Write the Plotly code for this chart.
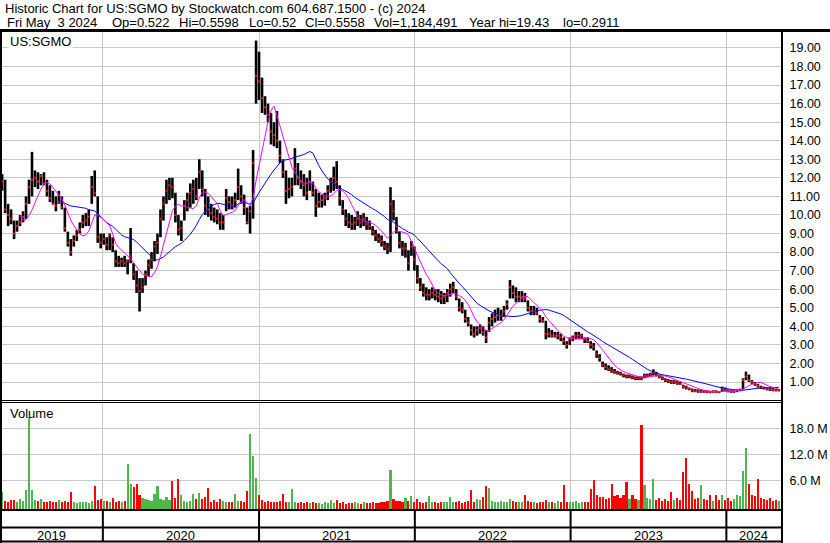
import pandas as pd
import numpy as np
import plotly.graph_objects as go

# ---------------- data (weekly) ----------------
high = [
    12.2, 11.9, 10.6, 10.3, 9.7, 9.7, 10.0, 10.2, 11.0, 11.9,
    13.4, 12.4, 12.3, 12.2, 12.3, 11.9, 11.6, 11.3, 11.0, 11.3,
    11.0, 10.4, 9.1, 8.7, 8.9, 9.2, 9.6, 10.0, 10.1, 10.3,
    12.1, 12.4, 11.0, 9.0, 9.0, 8.8, 9.0, 8.8, 8.1, 7.8,
    7.7, 7.8, 7.6, 9.3, 7.4, 7.0, 6.6, 6.6, 7.0, 7.6,
    8.0, 8.6, 9.0, 10.3, 11.0, 11.9, 12.0, 12.0, 11.2, 10.0,
    9.7, 10.8, 11.2, 11.7, 11.9, 12.0, 13.0, 12.4, 11.4, 11.0,
    10.6, 10.4, 10.3, 10.1, 10.0, 11.4, 11.0, 11.0, 11.2, 12.5,
    11.6, 11.1, 10.4, 10.5, 13.5, 19.4, 18.8, 17.4, 16.4, 16.0,
    15.5, 15.0, 15.6, 14.0, 13.0, 12.4, 12.0, 12.0, 13.6, 12.8,
    12.4, 12.2, 12.0, 12.4, 11.8, 11.4, 11.2, 11.1, 11.2, 11.6,
    12.0, 12.6, 12.9, 11.6, 10.8, 10.3, 10.1, 10.0, 9.9, 10.2,
    10.0, 10.1, 9.9, 9.7, 9.4, 9.2, 9.0, 8.9, 8.6, 8.5,
    11.5, 10.8, 9.9, 9.1, 8.6, 8.5, 8.1, 8.6, 8.3, 7.3,
    6.6, 6.3, 6.1, 6.0, 6.1, 6.0, 6.0, 5.9, 5.8, 6.0,
    6.3, 6.4, 6.0, 5.5, 5.3, 4.9, 4.5, 4.1, 4.0, 4.0,
    4.1, 4.0, 3.8, 4.5, 4.7, 4.9, 5.0, 4.9, 5.1, 5.4,
    6.5, 6.2, 6.1, 5.9, 5.9, 5.8, 5.4, 5.1, 5.1, 5.0,
    4.6, 4.5, 4.3, 3.9, 3.8, 3.7, 3.7, 3.6, 3.4, 3.2,
    3.4, 3.5, 3.7, 3.7, 3.6, 3.4, 3.4, 3.2, 3.1, 2.7,
    2.5, 2.1, 2.0, 1.9, 1.8, 1.7, 1.6, 1.55, 1.45, 1.4,
    1.4, 1.35, 1.3, 1.3, 1.3, 1.45, 1.45, 1.5, 1.68, 1.55,
    1.4, 1.3, 1.2, 1.15, 1.1, 1.1, 1.05, 1.0, 0.85, 0.8,
    0.7, 0.65, 0.62, 0.6, 0.6, 0.55, 0.55, 0.52, 0.55, 0.55,
    0.52, 0.75, 0.7, 0.6, 0.55, 0.55, 0.6, 0.63, 1.2, 1.56,
    1.4, 1.1, 1.0, 0.9, 0.8, 0.75, 0.7, 0.68, 0.68, 0.62,
    0.62,
]
low = [
    11.3, 10.1, 9.4, 9.5, 8.7, 9.1, 9.4, 9.6, 9.8, 10.6,
    11.0, 11.5, 11.4, 11.6, 11.6, 11.0, 10.7, 10.6, 10.2, 10.6,
    10.3, 9.1, 8.3, 7.8, 8.3, 8.6, 9.0, 9.3, 9.4, 9.4,
    10.6, 11.0, 8.5, 8.2, 8.4, 8.1, 8.1, 8.0, 7.2, 7.2,
    7.2, 7.2, 6.8, 7.4, 6.5, 5.8, 4.8, 5.8, 6.2, 6.7,
    7.1, 7.5, 7.9, 8.8, 9.7, 10.6, 10.8, 10.9, 9.6, 8.9,
    8.6, 9.7, 10.2, 10.4, 10.6, 10.8, 11.4, 11.0, 10.0, 9.9,
    9.7, 9.6, 9.5, 9.2, 9.2, 10.2, 10.3, 10.3, 10.4, 10.8,
    10.6, 10.0, 9.5, 9.0, 9.8, 16.0, 16.2, 15.5, 15.4, 15.0,
    13.8, 13.7, 13.6, 12.8, 12.0, 10.6, 10.9, 11.0, 11.6, 11.6,
    11.4, 11.0, 10.8, 11.3, 11.0, 9.9, 10.4, 10.4, 10.5, 10.8,
    11.2, 11.3, 11.4, 10.5, 10.0, 9.4, 9.3, 9.2, 9.2, 9.4,
    9.3, 9.4, 9.2, 9.2, 8.9, 8.6, 8.5, 8.3, 8.1, 7.9,
    8.0, 9.7, 9.0, 8.2, 7.8, 7.7, 7.0, 7.8, 7.0, 6.3,
    5.9, 5.6, 5.4, 5.4, 5.5, 5.4, 5.3, 5.2, 5.2, 5.3,
    5.6, 5.8, 5.4, 4.8, 4.7, 4.2, 4.0, 3.5, 3.4, 3.5,
    3.6, 3.5, 3.1, 3.7, 4.0, 4.2, 4.3, 4.3, 4.5, 4.9,
    5.5, 5.5, 5.3, 5.3, 5.3, 5.3, 4.8, 4.6, 4.6, 4.6,
    4.2, 4.2, 3.3, 3.4, 3.4, 3.4, 3.3, 3.2, 3.0, 2.8,
    3.0, 3.2, 3.3, 3.3, 3.3, 3.1, 3.1, 2.8, 2.7, 2.3,
    2.1, 1.8, 1.65, 1.6, 1.5, 1.45, 1.4, 1.35, 1.25, 1.2,
    1.2, 1.15, 1.1, 1.1, 1.1, 1.2, 1.25, 1.3, 1.35, 1.3,
    1.2, 1.1, 1.0, 0.95, 0.9, 0.9, 0.85, 0.85, 0.65, 0.6,
    0.55, 0.45, 0.45, 0.42, 0.42, 0.42, 0.4, 0.4, 0.42, 0.4,
    0.4, 0.5, 0.5, 0.45, 0.42, 0.42, 0.45, 0.5, 0.6, 1.1,
    1.0, 0.9, 0.8, 0.7, 0.62, 0.6, 0.55, 0.52, 0.5, 0.5,
    0.5,
]
close = [
    11.8, 10.3, 10.0, 9.8, 9.0, 9.4, 9.6, 9.9, 10.6, 11.5,
    11.9, 12.0, 11.8, 12.1, 11.7, 11.3, 10.9, 10.6, 10.5, 10.7,
    10.4, 9.3, 8.5, 8.0, 8.6, 8.9, 9.2, 9.6, 9.7, 9.9,
    11.5, 11.2, 8.8, 8.5, 8.7, 8.4, 8.9, 8.4, 7.5, 7.4,
    7.5, 7.4, 7.5, 7.8, 6.8, 6.2, 5.9, 6.1, 6.8, 7.3,
    7.6, 8.3, 8.5, 9.8, 10.6, 11.3, 11.6, 11.5, 10.0, 9.2,
    9.3, 10.5, 10.8, 11.2, 11.4, 11.0, 12.3, 11.4, 10.5, 10.3,
    10.1, 9.9, 9.8, 9.6, 9.6, 10.9, 10.7, 10.5, 10.8, 11.5,
    11.0, 10.4, 9.6, 10.2, 12.8, 17.5, 17.2, 16.3, 15.8, 15.4,
    14.5, 14.3, 14.0, 13.2, 12.3, 11.3, 11.4, 11.5, 12.5, 12.0,
    11.8, 11.6, 11.2, 11.8, 11.2, 10.5, 10.7, 10.8, 10.9, 11.3,
    11.8, 12.0, 11.8, 10.9, 10.3, 9.8, 9.6, 9.5, 9.6, 9.8,
    9.6, 9.8, 9.5, 9.4, 9.1, 8.9, 8.7, 8.6, 8.3, 8.2,
    10.6, 10.2, 9.4, 8.5, 8.2, 8.2, 7.4, 8.3, 7.6, 6.6,
    6.1, 5.8, 5.7, 5.7, 5.8, 5.7, 5.6, 5.5, 5.6, 5.8,
    6.0, 6.1, 5.6, 5.0, 4.9, 4.4, 4.2, 3.8, 3.6, 3.8,
    3.9, 3.7, 3.4, 4.2, 4.4, 4.5, 4.6, 4.6, 4.8, 5.2,
    6.1, 5.8, 5.6, 5.6, 5.6, 5.5, 5.0, 4.8, 4.8, 4.7,
    4.4, 4.3, 3.6, 3.6, 3.5, 3.5, 3.5, 3.4, 3.2, 3.0,
    3.3, 3.4, 3.5, 3.5, 3.5, 3.3, 3.2, 3.0, 2.9, 2.5,
    2.3, 1.9, 1.8, 1.7, 1.6, 1.55, 1.5, 1.45, 1.35, 1.3,
    1.3, 1.25, 1.2, 1.2, 1.18, 1.35, 1.35, 1.4, 1.5, 1.4,
    1.3, 1.2, 1.1, 1.05, 1.0, 1.0, 0.95, 0.9, 0.75, 0.7,
    0.62, 0.55, 0.52, 0.5, 0.5, 0.48, 0.46, 0.45, 0.48, 0.47,
    0.46, 0.62, 0.55, 0.5, 0.48, 0.5, 0.55, 0.6, 1.1, 1.3,
    1.1, 1.0, 0.9, 0.8, 0.7, 0.68, 0.62, 0.6, 0.58, 0.55,
    0.5558,
]
volume_m = [
    3.4, 1.2, 1.0, 1.4, 1.5, 1.1, 1.6, 1.3, 3.8, 20.7,
    3.8, 1.4, 1.2, 1.6, 1.1, 1.0, 1.3, 0.9, 1.1, 1.4,
    0.9, 1.2, 1.0, 3.4, 0.9, 0.8, 1.1, 0.9, 1.0, 0.8,
    1.2, 4.8, 1.5, 1.8, 1.3, 1.2, 1.0, 1.9, 1.1, 1.2,
    1.0, 1.3, 9.8, 5.2, 4.5, 5.2, 2.5, 2.0, 1.7, 1.5,
    1.3, 2.8, 4.8, 1.8, 1.4, 2.2, 1.5, 5.8, 2.0, 6.3,
    2.6, 1.2, 1.0, 1.3, 2.8, 1.6, 3.0, 1.7, 2.2, 4.3,
    1.1, 1.4, 0.9, 1.7, 1.2, 0.9, 1.0, 1.1, 2.8, 1.3,
    1.2, 1.0, 3.6, 16.8, 11.6, 6.6, 2.7, 1.4, 1.0, 1.2,
    1.0, 1.1, 0.9, 1.2, 2.9, 1.0, 1.1, 3.9, 0.9, 0.8,
    1.0, 0.7, 0.9, 0.8, 1.0, 0.7, 0.8, 0.6, 0.9, 0.7,
    1.5, 0.8, 1.4, 0.7, 0.9, 0.6, 0.8, 0.7, 0.9, 0.8,
    0.6, 0.9, 0.7, 0.8, 1.0, 0.7, 0.8, 0.9, 1.0, 1.2,
    8.4, 1.6, 1.3, 1.2, 1.1, 2.0, 1.3, 2.4, 0.9, 1.8,
    1.0, 0.8, 1.1, 2.3, 0.9, 1.0, 0.8, 1.1, 0.9, 1.0,
    2.2, 0.9, 1.0, 1.3, 0.8, 1.1, 1.2, 3.7, 1.0, 1.6,
    1.4, 2.2, 4.6, 4.3, 1.2, 1.0, 0.9, 1.3, 1.1, 1.0,
    1.6, 1.2, 0.9, 1.1, 1.0, 2.6, 1.2, 0.9, 1.0, 0.8,
    1.1, 1.0, 1.5, 0.9, 1.0, 0.8, 1.2, 1.0, 5.0, 1.1,
    0.9, 1.0, 1.2, 0.8, 1.0, 1.1, 0.9, 3.9, 6.0, 2.5,
    2.1, 2.2, 1.8, 2.0, 5.2, 2.4, 2.6, 1.9, 2.5, 5.5,
    1.8, 2.6, 1.6, 1.4, 18.8, 5.0, 1.9, 1.6, 6.2, 1.5,
    2.0, 1.2, 1.8, 1.3, 3.3, 1.5, 1.9, 1.4, 8.0, 11.2,
    5.1, 3.5, 1.7, 1.9, 4.9, 1.8, 1.4, 2.7, 1.3, 2.6,
    1.5, 2.6, 1.4, 1.9, 1.2, 1.6, 2.6, 2.3, 8.1, 13.4,
    5.2, 2.7, 2.4, 6.2, 2.0, 1.8, 1.5, 1.9, 1.3, 1.4,
    1.2,
]
last_date = "2024-05-03"
year_labels = ["2019", "2020", "2021", "2022", "2023", "2024"]
year_starts = ["2020-01-01", "2021-01-01", "2022-01-01", "2023-01-01", "2024-01-01"]
price_ticks = list(range(1, 20))
volume_ticks = [6, 12, 18]
header_1 = "Historic Chart for US:SGMO by Stockwatch.com 604.687.1500 - (c) 2024"
header_2_fields = ["Fri May  3 2024", "Op=0.522", "Hi=0.5598", "Lo=0.52", "Cl=0.5558",
                   "Vol=1,184,491", "Year hi=19.43", "lo=0.2911"]
symbol = "US:SGMO"

# ---------------- geometry ----------------
W, H = 830, 543
PL, PR = 0, 781          # plot area x (px)
PT, PB = 32, 509         # plot area y (px)
X_RANGE = ["2019-05-05", "2024-05-08"]
VOL_FLOOR = -0.62
FONT = "Liberation Sans, Arial, sans-serif"
GRID = "#c8c8c8"
header_2_x = [5, 110, 177, 247, 303, 372, 467, 561]


def px(xp):
    return (xp - PL) / (PR - PL)


def py(yp):
    return (PB - yp) / (PB - PT)


n = min(len(high), len(low), len(close), len(volume_m))
high, low, close, volume_m = high[:n], low[:n], close[:n], volume_m[:n]
dates = pd.date_range(end=last_date, periods=n, freq="7D")

s = pd.Series(close)
ma_fast = s.rolling(7).mean()
ma_slow = s.rolling(20).mean()

vol_colors = []
for i in range(n):
    if i == 0 or close[i] >= close[i - 1]:
        vol_colors.append("#4cb84c")
    else:
        vol_colors.append("#ff0000")

bx, by = [], []
for d, h, l in zip(dates, high, low):
    bx += [d, d, None]
    by += [l, h, None]

fig = go.Figure()
fig.add_trace(go.Scatter(x=bx, y=by, mode="lines", line=dict(color="black", width=2.6),
                         xaxis="x", yaxis="y", hoverinfo="skip"))
fig.add_trace(go.Scatter(x=dates, y=close, mode="markers",
                         marker=dict(symbol="square", size=2, color="#ff0000", line=dict(width=0)),
                         xaxis="x", yaxis="y"))
fig.add_trace(go.Scatter(x=dates, y=ma_slow, mode="lines", line=dict(color="#0000ff", width=1),
                         xaxis="x", yaxis="y"))
fig.add_trace(go.Scatter(x=dates, y=ma_fast, mode="lines", line=dict(color="#ff00ff", width=1),
                         xaxis="x", yaxis="y"))
fig.add_trace(go.Bar(x=dates, y=np.array(volume_m) - VOL_FLOOR, base=VOL_FLOOR,
                     marker=dict(color=vol_colors, line=dict(width=0)),
                     width=5 * 86400000, xaxis="x2", yaxis="y2"))

xa = dict(range=X_RANGE, type="date", tickvals=year_starts, showticklabels=False,
          showgrid=True, gridcolor=GRID, gridwidth=1, zeroline=False, showline=False,
          ticks="", domain=[0, 1], fixedrange=True)

price_dom = [py(400), 1]
vol_dom = [0, py(403)]
p_lo = 0.03
p_hi = 19.86
v_hi = 23.85

fig.update_layout(
    width=W, height=H,
    margin=dict(l=PL, r=W - PR, t=PT, b=H - PB, pad=0, autoexpand=False),
    paper_bgcolor="white", plot_bgcolor="white",
    showlegend=False, bargap=0,
    font=dict(family=FONT, color="black", size=13),
    xaxis=dict(xa, anchor="y"),
    xaxis2=dict(xa, anchor="y2", matches="x"),
    yaxis=dict(domain=price_dom, range=[p_lo, p_hi], side="right", anchor="x",
               tickvals=price_ticks, ticktext=[f"{v:.2f}" for v in price_ticks],
               showgrid=True, gridcolor=GRID, zeroline=False, showline=False,
               ticks="outside", ticklen=5, tickcolor="rgba(0,0,0,0)", automargin=False,
               tickfont=dict(size=12.5, family=FONT, color="black")),
    yaxis2=dict(domain=vol_dom, range=[VOL_FLOOR, v_hi], side="right", anchor="x2",
                tickvals=volume_ticks, ticktext=[f"{v:.1f} M" for v in volume_ticks],
                showgrid=True, gridcolor=GRID, zeroline=False, showline=False,
                ticks="outside", ticklen=5, tickcolor="rgba(0,0,0,0)", automargin=False,
                tickfont=dict(size=12.5, family=FONT, color="black")),
)

ann = []
nb = lambda t: t.replace(" ", "\u00a0")
ann.append(dict(text=nb(header_1), x=px(3), y=py(9), xref="paper", yref="paper",
                xanchor="left", yanchor="middle", showarrow=False, font=dict(size=13)))
for txt, xx in zip(header_2_fields, header_2_x):
    ann.append(dict(text=nb(txt), x=px(xx), y=py(22.5), xref="paper", yref="paper",
                    xanchor="left", yanchor="middle", showarrow=False, font=dict(size=13)))
ann.append(dict(text=symbol, x=px(8), y=py(41), xref="paper", yref="paper",
                xanchor="left", yanchor="middle", showarrow=False, font=dict(size=13),
                bgcolor="white"))
ann.append(dict(text="Volume", x=px(8), y=py(413), xref="paper", yref="paper",
                xanchor="left", yanchor="middle", showarrow=False, font=dict(size=13)))
bounds = [pd.Timestamp(X_RANGE[0])] + [pd.Timestamp(d) for d in year_starts] + [pd.Timestamp(X_RANGE[1])]
for lab, a, b in zip(year_labels, bounds[:-1], bounds[1:]):
    mid = a + (b - a) / 2
    ann.append(dict(text=lab, x=mid, y=py(535), xref="x", yref="paper",
                    xanchor="center", yanchor="middle", showarrow=False, font=dict(size=13)))
fig.update_layout(annotations=ann)

shapes = []
def hline(yp, w, x0=0, x1=PR):
    shapes.append(dict(type="line", xref="paper", yref="paper", x0=px(x0), x1=px(x1),
                       y0=py(yp), y1=py(yp), line=dict(color="black", width=w), layer="above"))
def vline(xp, w, y0, y1):
    shapes.append(dict(type="line", xref="paper", yref="paper", x0=px(xp), x1=px(xp),
                       y0=py(y0), y1=py(y1), line=dict(color="black", width=w), layer="above"))

hline(30.5, 3, 0, W)
hline(400.5, 1)
hline(402.5, 1)
hline(510, 2)
hline(527.5, 2)
hline(541.5, 2)
vline(1, 2, 30, 543)
vline(782, 2, 30, 543)
for d in year_starts:
    shapes.append(dict(type="line", xref="x", yref="paper", x0=d, x1=d, y0=py(510), y1=py(541.5),
                       line=dict(color="black", width=2), layer="above"))
fig.update_layout(shapes=shapes)

fig.write_html("out.html", config={"displayModeBar": False},
               post_script="document.body.style.margin='0px';")
